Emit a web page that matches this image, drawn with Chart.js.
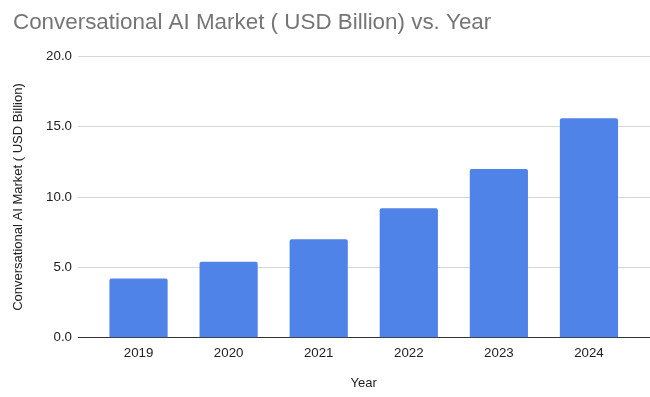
<!DOCTYPE html>
<html>
<head>
<meta charset="utf-8">
<script src="https://cdn.jsdelivr.net/npm/chart.js@4"></script>
<style>
    html, body { margin: 0; padding: 0; background: #fff; }
    #wrap { width: 650px; height: 397px; }
</style>
</head>
<body>
<div id="wrap"><canvas id="market-chart"></canvas></div>
<script>
const years = ['2019', '2020', '2021', '2022', '2023', '2024'];
const marketValues = [4.2, 5.4, 7.0, 9.2, 12.0, 15.6];
const yTicks = [0, 5, 10, 15, 20];

const FONT = '"Liberation Sans", Arial, Helvetica, sans-serif';
const GRID = '#d6d6d6';

document.addEventListener('DOMContentLoaded', function() {
    const ctx = document.getElementById('market-chart').getContext('2d');

    // grid line colour, darker for the zero line
    const gridColor = c => (c.tick && c.tick.value === 0) ? '#333333' : GRID;

    new Chart(ctx, {
        type: 'bar',
        data: {
            labels: years,
            datasets: [{
                label: 'Conversational AI Market ( USD Billion)',
                data: marketValues,
                backgroundColor: '#5083e8',
                borderRadius: { topLeft: 2, topRight: 2 },
                borderSkipped: 'bottom',
                categoryPercentage: 1,
                barPercentage: 0.646
            }]
        },
        options: {
            responsive: true,
            maintainAspectRatio: false,
            animation: false,
            layout: { padding: { left: 13, right: 0, top: 0, bottom: 0 } },
            plugins: {
                legend: { display: false },
                tooltip: { enabled: false },
                title: {
                    display: true,
                    text: 'Conversational AI Market ( USD Billion) vs. Year',
                    align: 'start',
                    color: '#757575',
                    font: { family: FONT, size: 22.4, weight: 'normal' },
                    padding: { top: 9.5, bottom: 20 }
                }
            },
            scales: {
                x: {
                    grid: { display: false, drawTicks: false },
                    border: { display: false },
                    ticks: {
                        color: '#222',
                        font: { family: FONT, size: 13.3 },
                        padding: 8
                    },
                    title: {
                        display: true,
                        text: 'Year',
                        color: '#222',
                        font: { family: FONT, size: 13 },
                        padding: { top: 5.6, bottom: 6.2 }
                    }
                },
                y: {
                    min: 0,
                    max: 20,
                    afterBuildTicks: s => { s.ticks = yTicks.map(v => ({ value: v })); },
                    afterFit: s => { s.width = 80.5; },
                    grid: {
                        color: gridColor,
                        lineWidth: 1,
                        drawTicks: true,
                        tickLength: 15.5,
                        tickColor: gridColor
                    },
                    border: { display: false },
                    ticks: {
                        color: '#222',
                        font: { family: FONT, size: 13.3 },
                        padding: 6,
                        callback: v => v.toFixed(1)
                    },
                    title: {
                        display: true,
                        text: 'Conversational AI Market ( USD Billion)',
                        color: '#222',
                        font: { family: FONT, size: 13 },
                        padding: { top: -2, bottom: 0 }
                    }
                },
                y2: {
                    position: 'right',
                    min: 0,
                    max: 20,
                    afterBuildTicks: s => { s.ticks = yTicks.map(v => ({ value: v })); },
                    afterFit: s => { s.width = 16; },
                    grid: {
                        drawOnChartArea: false,
                        drawTicks: true,
                        tickLength: 16,
                        tickColor: gridColor
                    },
                    border: { display: false },
                    ticks: { display: false }
                }
            }
        }
    });
});
</script>
</body>
</html>
